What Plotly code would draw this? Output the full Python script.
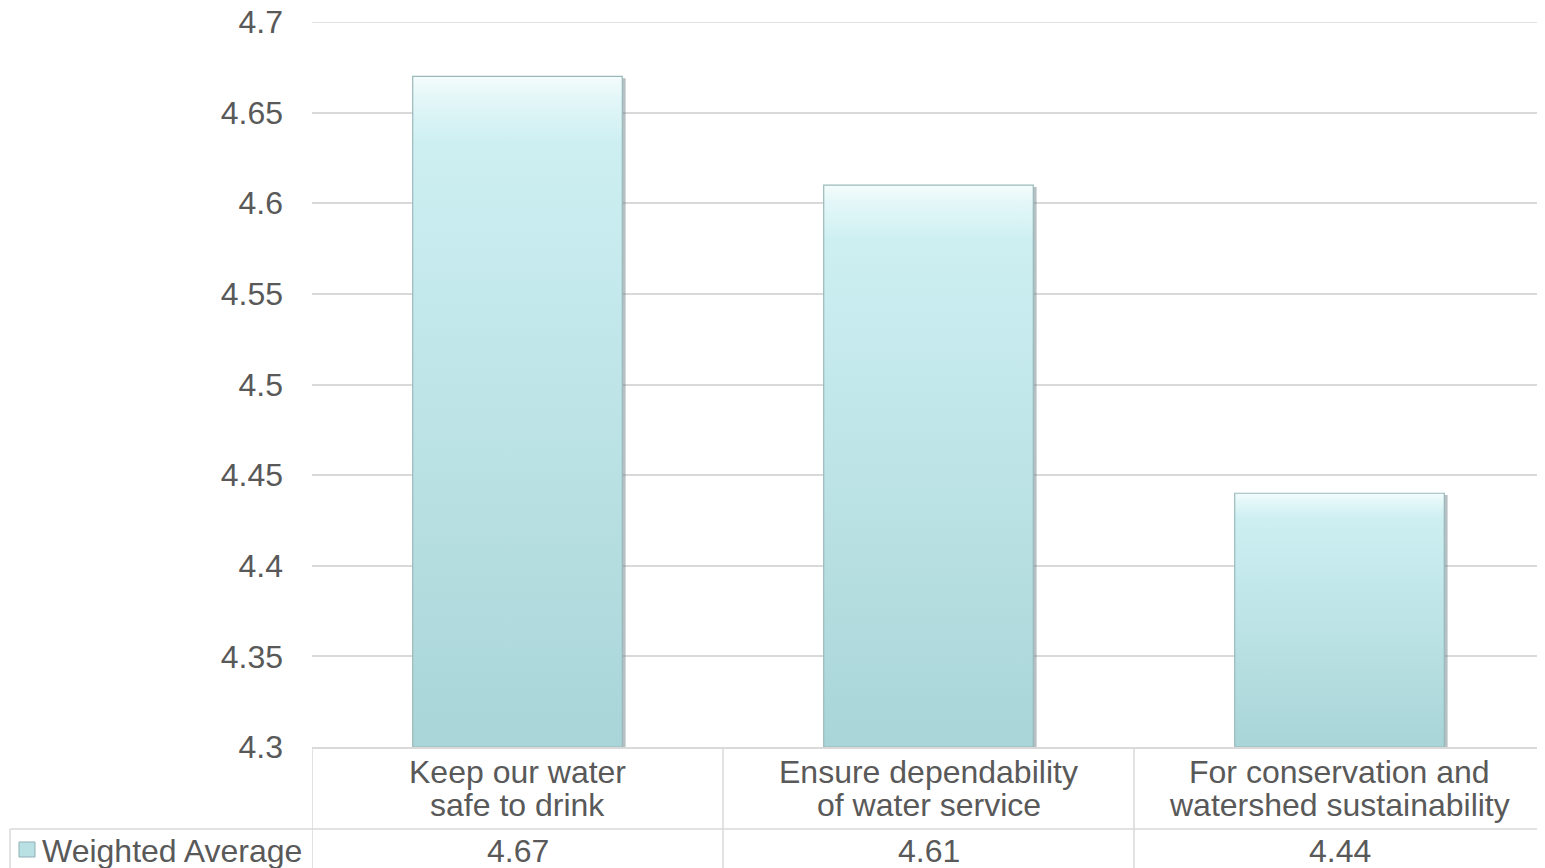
import plotly.graph_objects as go

categories = ["Keep our water<br>safe to drink", "Ensure dependability<br>of water service", "For conservation and<br>watershed sustainability"]
values = [4.67, 4.61, 4.44]
series_name = "Weighted Average"
value_labels = ["4.67", "4.61", "4.44"]
y_ticks = [4.3, 4.35, 4.4, 4.45, 4.5, 4.55, 4.6, 4.65, 4.7]
y_tick_text = ["4.3", "4.35", "4.4", "4.45", "4.5", "4.55", "4.6", "4.65", "4.7"]

# The page body has an 8px margin; the figure is sized so it fills the window exactly.
OFF = 8
W, H = 1545 - OFF, 868 - OFF
ML, MR, MT, MB = 312 - OFF, 0, 22 - OFF, 121
PW, PH = W - ML - MR, H - MT - MB
FONT = "Arial, Liberation Sans, sans-serif"
TXT = "#595959"
GRID = "#d9d9d9"
FS = 32
BAR_W = 0.51
Y_MIN, Y_MAX = 4.3, 4.7

def py(p):  # screen pixel -> paper y
    return (747 - p) / PH

def px(p):  # screen pixel -> paper x
    return (p - 312) / PW

xs = list(range(len(categories)))

fig = go.Figure()
for i, v in zip(xs, values):
    x0, x1 = i - BAR_W / 2, i + BAR_W / 2
    # shadow
    fig.add_trace(go.Scatter(
        x=[x0 + 0.008, x1 + 0.008, x1 + 0.008, x0 + 0.008, x0 + 0.008],
        y=[Y_MIN, Y_MIN, v - 0.001, v - 0.001, Y_MIN],
        fill="toself", fillcolor="rgba(110,130,135,0.5)", mode="lines",
        line=dict(width=0), hoverinfo="skip", showlegend=False,
    ))
    fig.add_trace(go.Scatter(
        x=[x0, x1, x1, x0, x0], y=[Y_MIN, Y_MIN, v, v, Y_MIN],
        fill="toself", mode="lines", name=series_name,
        fillgradient=dict(type="vertical",
                          colorscale=[[0, "#a9d5d8"], [0.9, "#cdeff2"], [0.97, "#e4f7f8"], [1, "#f5fcfc"]]),
        line=dict(color="#9ab9bc", width=1.2), showlegend=False,
    ))

shapes = []
annotations = []
row1_bot = py(829)
row2_bot = py(880)
# top gridline at the axis maximum
shapes.append(dict(type="line", xref="paper", yref="y", x0=0, x1=1, y0=Y_MAX, y1=Y_MAX,
                   line=dict(color=GRID, width=1.5), layer="below"))
shapes.append(dict(type="line", xref="paper", yref="paper", x0=px(10), x1=1, y0=row1_bot, y1=row1_bot,
                   line=dict(color=GRID, width=1.5)))
for i in range(len(categories) + 1):
    xv = i - 0.5
    shapes.append(dict(type="line", xref="x", yref="paper", x0=xv, x1=xv, y0=0, y1=row2_bot,
                       line=dict(color=GRID, width=1.5)))
shapes.append(dict(type="line", xref="paper", yref="paper", x0=px(10), x1=px(10), y0=row1_bot, y1=row2_bot,
                   line=dict(color=GRID, width=1.5)))
# legend key
shapes.append(dict(type="rect", xref="paper", yref="paper", x0=px(19), x1=px(35), y0=py(857), y1=py(842),
                   fillcolor="#b9e0e3", line=dict(color="#8fb0b3", width=1)))

for i, (c, v) in enumerate(zip(categories, value_labels)):
    lines = c.split("<br>")
    for j, ln in enumerate(lines):
        annotations.append(dict(x=i, xref="x", y=py(772 + 33 * j), yref="paper", text=ln, showarrow=False,
                                font=dict(family=FONT, size=FS, color=TXT),
                                yanchor="middle", xanchor="center"))
    annotations.append(dict(x=i, xref="x", y=py(851), yref="paper", text=v, showarrow=False,
                            font=dict(family=FONT, size=FS, color=TXT), yanchor="middle", xanchor="center"))
annotations.append(dict(x=px(40), xref="paper", y=py(851), yref="paper", text=series_name, showarrow=False,
                        font=dict(family=FONT, size=FS, color=TXT), yanchor="middle", xanchor="left"))

fig.update_layout(
    width=W, height=H,
    margin=dict(l=ML, r=MR, t=MT, b=MB, autoexpand=False),
    paper_bgcolor="white", plot_bgcolor="white",
    font=dict(family=FONT, size=FS, color=TXT),
    xaxis=dict(range=[-0.5, 2.5], showticklabels=False, showgrid=False, zeroline=False,
               showline=True, linecolor=GRID, linewidth=1.5, fixedrange=True),
    yaxis=dict(range=[Y_MIN, Y_MAX + 1e-6], tickvals=y_ticks, ticktext=y_tick_text, showgrid=True,
               gridcolor=GRID, gridwidth=1.5, zeroline=False, showline=False,
               ticklabeloverflow="allow",
               ticklabelstandoff=28, tickfont=dict(family=FONT, size=FS, color=TXT)),
    shapes=shapes, annotations=annotations,
)
fig.write_html("out.html")
